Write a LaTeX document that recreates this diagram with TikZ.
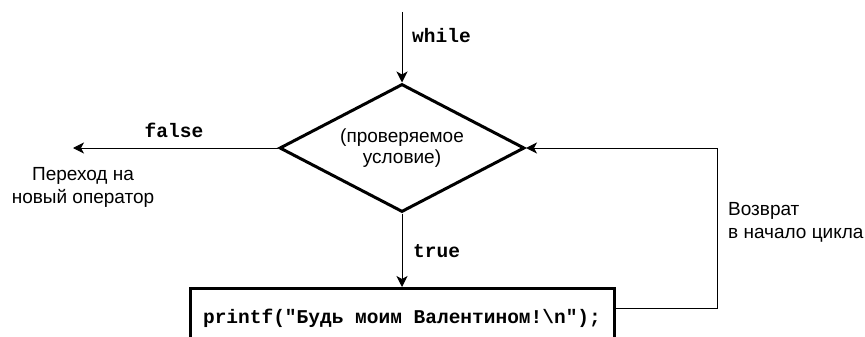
\documentclass[tikz,border=0pt]{standalone}
\usepackage{fontspec}
\setmainfont{Liberation Sans}
\newfontfamily\codefont{Liberation Mono}
\usetikzlibrary{shapes.geometric,arrows.meta}
\begin{document}
\begin{tikzpicture}[x=1pt,y=-1pt,
  lbl/.style={font=\fontsize{19}{22.5}\selectfont, inner sep=0pt},
  codelbl/.style={font=\codefont\bfseries\fontsize{19.5}{22}\selectfont, inner sep=0pt},
  arr/.style={-{Stealth[length=11pt,width=11pt,inset=3pt]}, line width=1pt},
  cond/.style={diamond, draw, line width=3pt, minimum width=245pt, minimum height=128pt,
               aspect=1.9, inner sep=0pt, align=center, font=\fontsize{19}{20.5}\selectfont},
  stmtbox/.style={rectangle, draw, line width=3pt, minimum width=424pt, inner xsep=0pt,
               inner ysep=16pt, text height=19pt, text depth=40pt,
               font=\codefont\bfseries\fontsize{19.5}{22}\selectfont}]
\useasboundingbox (0,0) rectangle (865,337);
\clip (0,0) rectangle (865,337);
% nodes
\node[cond] (d) at (402,148) {(проверяемое\\условие)};
\node[stmtbox, anchor=north] (box) at (402,287) {printf("Будь моим Валентином!\textbackslash n");};
\coordinate (start) at (402,12);
\coordinate (exit) at (73,148);
\coordinate (ret) at (717,148);
% connectors
\draw[arr] (start) -- (d.north);
\draw[arr] (d.west) -- (exit);
\draw[arr] (d.south) -- (box.north);
\draw[arr] ([yshift=-21pt]box.north east) -| (ret) -- (d.east);
% labels
\node[codelbl, anchor=base west] (lwhile) at (412,43) {while};
\node[codelbl, anchor=base] (lfalse) at (174,137) {false};
\node[codelbl, anchor=base west] (ltrue) at (413,257) {true};
\node[lbl, anchor=base, align=center] (lexit) at (83,203) {Переход на\\новый оператор};
\node[lbl, anchor=base west, align=left] (lret) at (728,238) {Возврат\\в начало цикла};
\end{tikzpicture}
\end{document}
